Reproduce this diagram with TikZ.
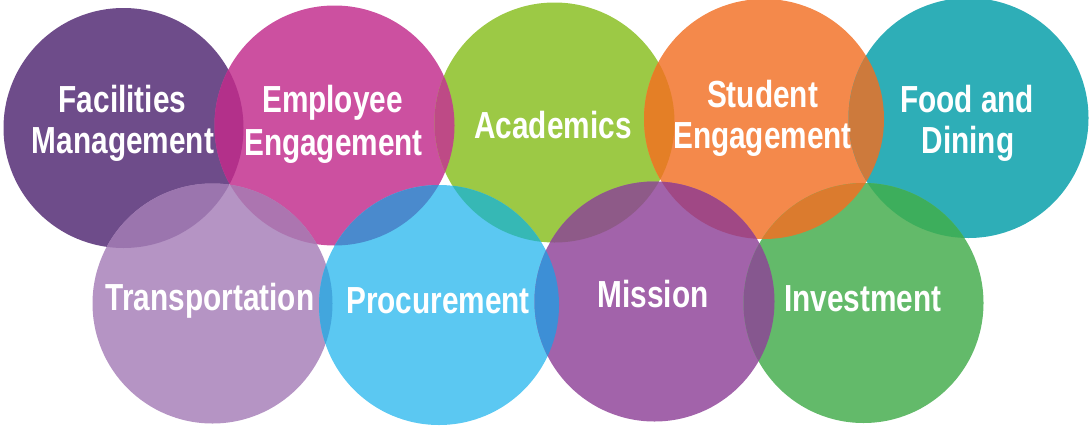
\documentclass[tikz,border=0pt]{standalone}
\usepackage{fontspec}
\newfontfamily\lbl{Liberation Sans}[FakeStretch=0.79]
\definecolor{cFac}{HTML}{6E4C8A}
\definecolor{cEmp}{HTML}{CC50A0}
\definecolor{cAca}{HTML}{9CC945}
\definecolor{cStu}{HTML}{F4894B}
\definecolor{cFoo}{HTML}{2EAEB7}
\definecolor{cTra}{HTML}{B594C4}
\definecolor{cPro}{HTML}{5BC8F2}
\definecolor{cMis}{HTML}{A263AA}
\definecolor{cInv}{HTML}{63BA6A}
\definecolor{oFacEmp}{HTML}{B3308A}
\definecolor{oEmpAca}{HTML}{BE4A86}
\definecolor{oAcaStu}{HTML}{E47F26}
\definecolor{oStuFoo}{HTML}{CD7A3C}
\definecolor{oFacTra}{HTML}{9B75AE}
\definecolor{oEmpTra}{HTML}{AC75B0}
\definecolor{oEmpPro}{HTML}{4A8ACD}
\definecolor{oAcaPro}{HTML}{36B8B5}
\definecolor{oAcaMis}{HTML}{8E5A88}
\definecolor{oStuMis}{HTML}{A04885}
\definecolor{oStuInv}{HTML}{DB7B2E}
\definecolor{oFooInv}{HTML}{3DAE5C}
\definecolor{oTraPro}{HTML}{42A6DD}
\definecolor{oProMis}{HTML}{3D8FD6}
\definecolor{oMisInv}{HTML}{86578F}
\newcommand\ovlap[3]{\begin{scope}\clip (#1.center) circle[radius=120pt];\fill[#3] (#2.center) circle[radius=120pt];\end{scope}}
\begin{document}
\begin{tikzpicture}[x=1pt,y=-1pt,
  bub/.style={circle, minimum size=240pt, inner sep=0pt, draw=none},
  lab/.style={text=white, font=\lbl\bfseries\fontsize{37.7}{41}\selectfont, inner sep=0pt, anchor=base}]
\useasboundingbox (0,0) rectangle (1089,426);
% circles
\node[bub, fill=cFac] (fac) at (123.5,128) {};
\node[bub, fill=cEmp] (emp) at (334.5,125.5) {};
\node[bub, fill=cAca] (aca) at (554.5,122.5) {};
\node[bub, fill=cStu] (stu) at (764,119) {};
\node[bub, fill=cFoo] (foo) at (968.5,118) {};
\node[bub, fill=cTra] (tra) at (212.5,303.5) {};
\node[bub, fill=cPro] (pro) at (439,305) {};
\node[bub, fill=cMis] (mis) at (654.5,301.5) {};
\node[bub, fill=cInv] (inv) at (863.5,303) {};
% overlaps
\ovlap{fac}{emp}{oFacEmp}
\ovlap{emp}{aca}{oEmpAca}
\ovlap{aca}{stu}{oAcaStu}
\ovlap{stu}{foo}{oStuFoo}
\ovlap{fac}{tra}{oFacTra}
\ovlap{emp}{tra}{oEmpTra}
\ovlap{emp}{pro}{oEmpPro}
\ovlap{aca}{pro}{oAcaPro}
\ovlap{aca}{mis}{oAcaMis}
\ovlap{stu}{mis}{oStuMis}
\ovlap{stu}{inv}{oStuInv}
\ovlap{foo}{inv}{oFooInv}
\ovlap{tra}{pro}{oTraPro}
\ovlap{pro}{mis}{oProMis}
\ovlap{mis}{inv}{oMisInv}
% labels
\node[lab] (t1a) at (122.5,112) {Facilities};
\node[lab] (t1b) at (123,153) {Management};
\node[lab] (t2a) at (332.5,112) {Employee};
\node[lab] (t2b) at (333.5,155) {Engagement};
\node[lab] (t3) at (553,138) {Academics};
\node[lab] (t4a) at (762.5,107) {Student};
\node[lab] (t4b) at (762.5,148) {Engagement};
\node[lab] (t5a) at (967,112) {Food and};
\node[lab] (t5b) at (968,153) {Dining};
\node[lab] (t6) at (210,310) {Transportation};
\node[lab] (t7) at (438,313) {Procurement};
\node[lab] (t8) at (653,307) {Mission};
\node[lab] (t9) at (863,311) {Investment};
\end{tikzpicture}
\end{document}
